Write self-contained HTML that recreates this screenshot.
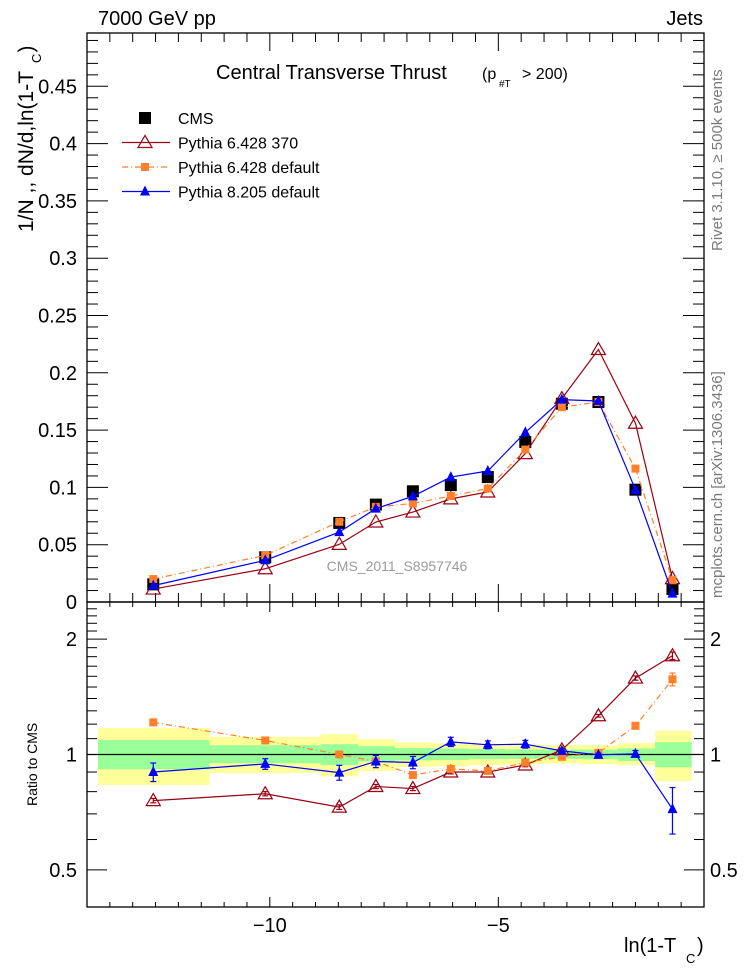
<!DOCTYPE html>
<html><head><meta charset="utf-8">
<style>
html,body{margin:0;padding:0;background:#fff;}
svg{display:block;font-family:"Liberation Sans",Arial,sans-serif;}
</style></head>
<body>
<svg id="chart" width="746" height="972" viewBox="0 0 746 972" xmlns="http://www.w3.org/2000/svg">
<g id="main"></g>
<g id="ratio"></g>
<text x="98" y="25" font-size="20" fill="#000">7000 GeV pp</text>
<text x="703" y="25" font-size="20" fill="#000" text-anchor="end">Jets</text>
<text x="216" y="79" font-size="20" fill="#000">Central Transverse Thrust</text>
<text x="482" y="79" font-size="16" fill="#000">(p</text>
<text x="499" y="87" font-size="10" fill="#000">#T</text>
<text x="522" y="79" font-size="16" fill="#000">&gt; 200)</text>
<text transform="translate(33,232) rotate(-90)" font-size="21" fill="#000">1/N ,, dN/d,ln(1-T<tspan font-size="13" dx="8" dy="8">C</tspan><tspan dx="1" dy="-8">)</tspan></text>
<text transform="translate(37,806) rotate(-90)" font-size="14" fill="#000">Ratio to CMS</text>
<text x="624" y="952" font-size="20" fill="#000">ln(1-T</text>
<text x="686" y="963" font-size="13" fill="#000">C</text>
<text x="697" y="952" font-size="20" fill="#000">)</text>
<text transform="translate(722,251) rotate(-90)" font-size="15" fill="#7a7a7a">Rivet 3.1.10, ≥ 500k events</text>
<text transform="translate(722,598) rotate(-90)" font-size="15" fill="#7a7a7a">mcplots.cern.ch [arXiv:1306.3436]</text>
<text x="397" y="571" font-size="14" fill="#9a9a9a" text-anchor="middle">CMS_2011_S8957746</text>
</svg>
<script>
// ---- data ----
const xBins = [-12.55,-10.10,-8.48,-7.68,-6.87,-6.04,-5.23,-4.41,-3.61,-2.81,-2.00,-1.19];
const cmsVals = [0.0154,0.039,0.069,0.085,0.0966,0.102,0.109,0.1396,0.173,0.1745,0.098,0.0113];
const p6370Vals = [0.0113,0.029,0.0503,0.0698,0.0785,0.090,0.096,0.1295,0.1775,0.2203,0.156,0.0204];
const p6defVals = [0.020,0.0407,0.070,0.083,0.086,0.0925,0.099,0.133,0.170,0.1745,0.1164,0.019];
const p8defVals = [0.0143,0.0364,0.061,0.0815,0.0922,0.109,0.1143,0.148,0.1766,0.1754,0.098,0.0073];
const p6370Ratio = [0.758,0.79,0.729,0.825,0.815,0.90,0.90,0.939,1.028,1.262,1.583,1.81];
const p6defRatio = [1.213,1.088,1.0,0.959,0.884,0.917,0.906,0.953,0.986,1.01,1.188,1.571];
const p8defRatio = [0.90,0.945,0.897,0.959,0.953,1.079,1.06,1.064,1.022,0.998,1.004,0.72];
const p8defRatioErr = [0.05,0.03,0.04,0.035,0.035,0.03,0.025,0.025,0.01,0.01,0.02,0.1];
const p6defRatioErr = [0.02,0.01,0.02,0.01,0.015,0.01,0.01,0.01,0.01,0.01,0.015,0.06];
const p6370RatioErr = [0.01,0.01,0.01,0.01,0.01,0.01,0.01,0.01,0.01,0.01,0.02,0.04];
const bandEdges = [-13.76,-11.32,-8.89,-8.07,-7.26,-6.43,-5.63,-4.82,-4.01,-3.2,-2.39,-1.57,-0.77];
const yellowHi = [1.172,1.112,1.130,1.096,1.075,1.070,1.064,1.06,1.057,1.057,1.070,1.151];
const yellowLo = [0.833,0.895,0.877,0.906,0.928,0.932,0.939,0.943,0.947,0.943,0.938,0.853];
const greenHi = [1.090,1.057,1.064,1.051,1.039,1.037,1.033,1.031,1.030,1.030,1.037,1.077];
const greenLo = [0.915,0.949,0.938,0.959,0.966,0.968,0.972,0.974,0.975,0.972,0.962,0.926];
const xTickLabels = [-10,-5];
const mainTickLabels = [0.05,0.1,0.15,0.2,0.25,0.3,0.35,0.4,0.45];
const ratioTickLabels = [0.5,1,2];

// ---- geometry ----
const L=87,R=704,MT=33,MB=602,RT=602,RB=907;
const X0=-14,X1=-0.5;
const sx=v=>L+(v-X0)/(X1-X0)*(R-L);
const sy=v=>MB-v*1146;
const lr0=Math.log10(0.4),lr1=Math.log10(2.5);
const sr=v=>RB-(Math.log10(v)-lr0)/(lr1-lr0)*(RB-RT);
const NS='http://www.w3.org/2000/svg';
function mk(parent,tag,attrs){const e=document.createElementNS(NS,tag);for(const k in attrs)e.setAttribute(k,attrs[k]);parent.appendChild(e);return e;}
const gm=document.getElementById('main'), gr=document.getElementById('ratio');

// bands
for(let i=0;i<yellowHi.length;i++){
  const x0=sx(bandEdges[i]),x1=sx(bandEdges[i+1]);
  const y=mk(gr,'rect',{x:x0,y:sr(yellowHi[i]),width:x1-x0,height:sr(yellowLo[i])-sr(yellowHi[i]),fill:'#ffff99'});
  
  
  const g=mk(gr,'rect',{x:x0,y:sr(greenHi[i]),width:x1-x0,height:sr(greenLo[i])-sr(greenHi[i]),fill:'#99ff99'});
  
  
}
const one=mk(gr,'line',{x1:L,x2:R,y1:sr(1),y2:sr(1),stroke:'#000','stroke-width':1.2});



// frames
for(const [g,t,b,nm] of [[gm,MT,MB,'main-frame'],[gr,RT,RB,'ratio-frame']]){
  const f=mk(g,'rect',{x:L,y:t,width:R-L,height:b-t,fill:'none',stroke:'#000','stroke-width':1.3});
  
  
}
// x ticks
function xTicks(g,t,b,ml,mn){
  for(let v=-14;v<=-0.5+1e-9;v+=0.5){
    const major=Math.abs(v%5)<1e-9, len=major?ml:mn, x=sx(v);
    mk(g,'line',{x1:x,x2:x,y1:b,y2:b-len,stroke:'#000','stroke-width':1});
    mk(g,'line',{x1:x,x2:x,y1:t,y2:t+len,stroke:'#000','stroke-width':1});
  }
}
xTicks(gm,MT,MB,18,9);xTicks(gr,RT,RB,10,5);
for(const v of xTickLabels){
  const t=mk(gr,'text',{x:sx(v),y:RB+25,'font-size':20,'text-anchor':'middle'});
  t.textContent='\u2212'+Math.abs(v);
  
  
}
// main y ticks
for(let k=0;k<=49;k++){
  const v=k*0.01, y=sy(v); if(y<MT)break;
  const len=(k%5===0)?21:11;
  mk(gm,'line',{x1:L,x2:L+len,y1:y,y2:y,stroke:'#000','stroke-width':1});
  mk(gm,'line',{x1:R,x2:R-len,y1:y,y2:y,stroke:'#000','stroke-width':1});
}
for(const v of [0].concat(mainTickLabels)){
  const t=mk(gm,'text',{x:77,y:sy(v)+7,'font-size':20,'text-anchor':'end'});
  t.textContent=String(v);
  
  
}
// ratio y ticks
for(let k=4;k<=25;k++){
  const v=k/10, y=sr(v); const major=(k===5||k===10||k===20), len=major?20:10;
  mk(gr,'line',{x1:L,x2:L+len,y1:y,y2:y,stroke:'#000','stroke-width':1});
  mk(gr,'line',{x1:R,x2:R-len,y1:y,y2:y,stroke:'#000','stroke-width':1});
}
for(const v of ratioTickLabels){
  for(const [x,a] of [[77,'end'],[710,'start']]){
    const t=mk(gr,'text',{x:x,y:sr(v)+7,'font-size':20,'text-anchor':a});
    t.textContent=String(v);
    
    
  }
}

// marker helpers
function marker(g,type,x,y,color){
  let e;
  if(type==='bigsq') e=mk(g,'rect',{x:x-6,y:y-6,width:12,height:12,fill:'#000'});
  else if(type==='sq') e=mk(g,'rect',{x:x-4,y:y-4,width:8,height:8,fill:color});
  else if(type==='otri') e=mk(g,'polygon',{points:`${x},${y-7} ${x-7},${y+5} ${x+7},${y+5}`,fill:'none',stroke:color,'stroke-width':1.2});
  else e=mk(g,'polygon',{points:`${x},${y-6} ${x-5},${y+4} ${x+5},${y+4}`,fill:color});
  return e;
}
const series=[
 {name:'pythia6-370',vals:p6370Vals,rat:p6370Ratio,err:p6370RatioErr,color:'#990011',m:'otri',dash:''},
 {name:'pythia6-default',vals:p6defVals,rat:p6defRatio,err:p6defRatioErr,color:'#ff7f2a',m:'sq',dash:'6,3,1,3'},
 {name:'pythia8-default',vals:p8defVals,rat:p8defRatio,err:p8defRatioErr,color:'#0000ff',m:'tri',dash:''}
];
// CMS
cmsVals.forEach((v,i)=>{
  const e=marker(gm,'bigsq',sx(xBins[i]),sy(v),'#000');
  
  
});
for(const s of series){
  const pts=s.vals.map((v,i)=>sx(xBins[i])+','+sy(v)).join(' ');
  const pl=mk(gm,'polyline',{points:pts,fill:'none',stroke:s.color,'stroke-width':1.2,'stroke-dasharray':s.dash});
  
  
  s.vals.forEach((v,i)=>{
    const e=marker(gm,s.m,sx(xBins[i]),sy(v),s.color);
    
    
  });
  const rp=s.rat.map((v,i)=>sx(xBins[i])+','+sr(v)).join(' ');
  const rl=mk(gr,'polyline',{points:rp,fill:'none',stroke:s.color,'stroke-width':1.2,'stroke-dasharray':s.dash});
  
  
  s.rat.forEach((v,i)=>{
    const x=sx(xBins[i]),yh=sr(v+s.err[i]),yl=sr(v-s.err[i]);
    mk(gr,'line',{x1:x,x2:x,y1:yh,y2:yl,stroke:s.color,'stroke-width':1.2});
    mk(gr,'line',{x1:x-3,x2:x+3,y1:yh,y2:yh,stroke:s.color,'stroke-width':1.2});
    mk(gr,'line',{x1:x-3,x2:x+3,y1:yl,y2:yl,stroke:s.color,'stroke-width':1.2});
    const e=marker(gr,s.m,x,sr(v),s.color);
    
    
  });
}
// legend
const leg=mk(gm,'g',{});


const entries=[['CMS','bigsq','#000',''],['Pythia 6.428 370','otri','#990011',''],['Pythia 6.428 default','sq','#ff7f2a','6,3,1,3'],['Pythia 8.205 default','tri','#0000ff','']];
entries.forEach((en,i)=>{
  const y=118+i*24.5;
  const g=mk(leg,'g',{});
  
  
  if(i>0) mk(g,'line',{x1:122,x2:170,y1:y,y2:y,stroke:en[2],'stroke-width':1.2,'stroke-dasharray':en[3]});
  marker(g,en[1],145,y,en[2]);
  const t=mk(g,'text',{x:178,y:y+6,'font-size':16});
  t.textContent=en[0];
});
</script>
</body></html>
